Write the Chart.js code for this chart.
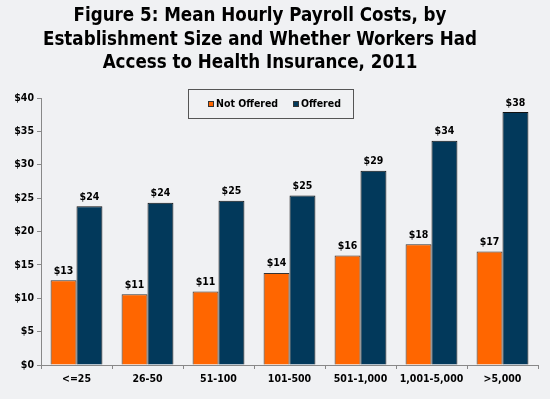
<!DOCTYPE html>
<html>
<head>
<meta charset="utf-8">
<script src="https://cdn.jsdelivr.net/npm/chart.js@4.4.0/dist/chart.umd.min.js"></script>
<style>
  body { margin: 0; background: #f0f1f3; }
  #wrap { position: relative; width: 550px; height: 399px; }
  #title {
    position: absolute; left: 0; top: 3px; width: 520px;
    text-align: center; color: #000;
    font-family: "DejaVu Sans Condensed", "DejaVu Sans", sans-serif;
    font-weight: bold; font-size: 18.6px; line-height: 23.5px;
  }
  canvas { position: absolute; left: 0; top: 0; }
</style>
</head>
<body>
<div id="wrap">
  <canvas id="chart" width="550" height="399"></canvas>
  <div id="title">Figure 5: Mean Hourly Payroll Costs, by<br>Establishment Size and Whether Workers Had<br>Access to Health Insurance, 2011</div>
</div>
<script>
const sizes = ["<=25", "26-50", "51-100", "101-500", "501-1,000", "1,001-5,000", ">5,000"];
const notOffered = [12.7, 10.6, 11.0, 13.8, 16.4, 18.1, 17.0];
const offered = [23.8, 24.3, 24.6, 25.4, 29.1, 33.6, 37.9];
const seriesNames = ["Not Offered", "Offered"];
const yTicks = [0, 5, 10, 15, 20, 25, 30, 35, 40];

const FONT = '"DejaVu Sans Condensed", "DejaVu Sans", sans-serif';
const ORANGE = "#ff6600";
const NAVY = "#02395b";

// value labels above each bar
const valueLabels = {
  id: "valueLabels",
  afterDatasetsDraw(chart) {
    let ctx = chart.ctx;
    ctx.save();
    ctx.font = "bold 10.5px " + FONT;
    ctx.fillStyle = "#000";
    ctx.textAlign = "center";
    ctx.textBaseline = "bottom";
    chart.data.datasets.forEach((ds, i) => {
      chart.getDatasetMeta(i).data.forEach((bar, j) => {
        ctx.fillText("$" + Math.round(ds.data[j]), bar.x, bar.y - 4);
      });
    });
    ctx.restore();
  }
};

// boxed legend sitting inside the plot
const boxLegend = {
  id: "boxLegend",
  afterDraw(chart) {
    let ctx = chart.ctx;
    ctx.save();
    ctx.strokeStyle = "#555";
    ctx.lineWidth = 1;
    ctx.strokeRect(188.5, 89.5, 165, 29);
    ctx.font = "bold 10.5px " + FONT;
    ctx.textBaseline = "middle";
    ctx.fillStyle = "#000";
    let xs = [208, 293];
    chart.data.datasets.forEach((ds, i) => {
      ctx.fillStyle = ds.backgroundColor;
      ctx.fillRect(xs[i], 101, 6, 6);
      ctx.strokeStyle = "#333";
      ctx.strokeRect(xs[i] + 0.5, 101.5, 5, 5);
      ctx.fillStyle = "#000";
      ctx.fillText(ds.label, xs[i] + 8, 104.5);
    });
    ctx.restore();
  }
};

new Chart(document.getElementById("chart"), {
  type: "bar",
  data: {
    labels: sizes,
    datasets: [
      { label: seriesNames[0], data: notOffered, backgroundColor: ORANGE, borderColor: "#333", borderWidth: 1 },
      { label: seriesNames[1], data: offered, backgroundColor: NAVY, borderColor: "#111", borderWidth: 1 }
    ]
  },
  options: {
    responsive: false,
    animation: false,
    devicePixelRatio: 1,
    layout: { padding: { top: 98, right: 12, left: 0, bottom: 0 } },
    datasets: { bar: { categoryPercentage: 0.73, barPercentage: 1 } },
    plugins: {
      legend: { display: false },
      title: { display: false },
      tooltip: { enabled: false }
    },
    scales: {
      x: {
        grid: { drawOnChartArea: false, color: "#888", tickLength: 4 },
        border: { color: "#888" },
        ticks: { color: "#000", font: { family: FONT, size: 10.5, weight: "bold" }, padding: 4 },
        afterFit(scale) { scale.height = 34; }
      },
      y: {
        min: 0,
        max: 40,
        afterBuildTicks(scale) { scale.ticks = yTicks.map(v => ({ value: v })); },
        grid: { drawOnChartArea: false, color: "#888", tickLength: 4 },
        border: { color: "#888" },
        ticks: {
          color: "#000",
          font: { family: FONT, size: 10.5, weight: "bold" },
          padding: 3,
          callback: v => "$" + v
        },
        afterFit(scale) { scale.width = 41; }
      }
    }
  },
  plugins: [valueLabels, boxLegend]
});
</script>
</body>
</html>
